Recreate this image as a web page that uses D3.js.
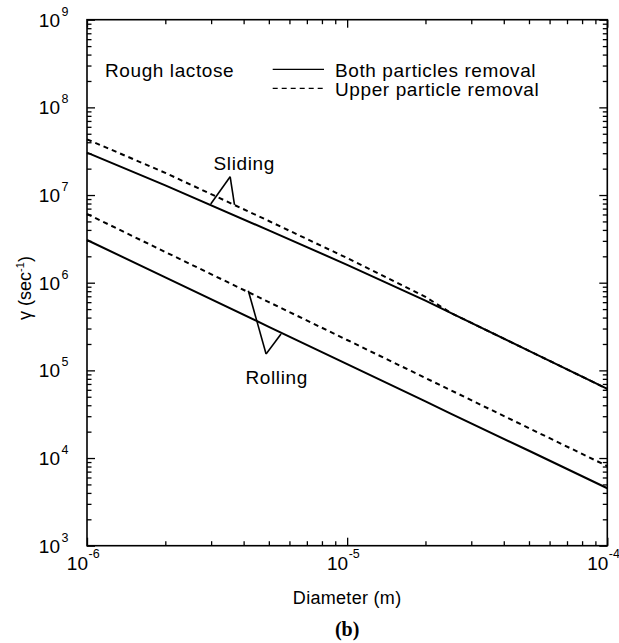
<!DOCTYPE html>
<html><head><meta charset="utf-8">
<script src="https://cdn.jsdelivr.net/npm/d3@7"></script>
<style>
body{margin:0;background:#fff;}
svg{display:block;font-family:"Liberation Sans",Arial,Helvetica,sans-serif;}
</style></head>
<body><svg id="c" width="619" height="643"></svg>
<script>
const diameters    = [1e-6, 2e-6, 5e-6, 1e-5, 2e-5, 2.5e-5, 5e-5, 1e-4];
const slidingBoth  = [3.04e7, 1.29e7, 3.95e6, 1.6e6, 6.25e5, 4.53e5, 1.67e5, 6.14e4];
const slidingUpper = [4.32e7, 1.79e7, 5.06e6, 1.91e6, 6.9e5, 4.53e5, 1.67e5, 6.14e4];
const rollingBoth  = [3.07e6, 1.15e6, 3.14e5, 1.18e5, 4.42e4, 3.21e4, 1.21e4, 4.52e3];
const rollingUpper = [6.08e6, 2.24e6, 6.01e5, 2.22e5, 8.19e4, 5.94e4, 2.19e4, 8.09e3];
const xMajor = [-6, -5, -4];
const yMajor = [3, 4, 5, 6, 7, 8, 9];
const legendLabels = ["Both particles removal", "Upper particle removal"];
const titleLabel = "Rough lactose";
const xTitle = "Diameter (m)";
const panelLabel = "(b)";
// annotation anchors in data coordinates [diameter, value]
const slidingNote = {text: "Sliding", label: [4.02e-6, 1.93e7], apex: [3.55e-6, 1.62e7], ends: [[2.99e-6, 7.9e6], [3.69e-6, 7.7e6]]};
const rollingNote = {text: "Rolling", label: [5.36e-6, 7.0e4], apex: [4.88e-6, 1.54e5], ends: [[4.17e-6, 8.1e5], [5.57e-6, 2.6e5]]};

const svg = d3.select("#c");
const L = 87, T = 19.7, R = 607.3, B = 545.7;
const x = d3.scaleLog().domain([1e-6, 1e-4]).range([L, R]);
const y = d3.scaleLog().domain([1e3, 1e9]).range([B, T]);

const minorX = [], minorY = [];
for (let e = -6; e < -4; e++) for (let m = 2; m <= 9; m++) minorX.push(m * Math.pow(10, e));
for (let e = 3; e < 9; e++) for (let m = 2; m <= 9; m++) minorY.push(m * Math.pow(10, e));
const majX = xMajor.map(e => Math.pow(10, e));
const majY = yMajor.map(e => Math.pow(10, e));

function ax(gen, vals, size, tx, ty) {
  const g = svg.append("g").attr("transform", `translate(${tx},${ty})`)
    .call(gen.tickValues(vals).tickSizeInner(size).tickSizeOuter(0).tickFormat(""));
  g.select(".domain").remove();
  g.selectAll("line").attr("stroke", "#000").attr("stroke-width", 1.3);
  return g;
}
// inward ticks on all four sides
ax(d3.axisBottom(x), majX, -8, 0, B);
ax(d3.axisBottom(x), minorX, -4.5, 0, B);
ax(d3.axisTop(x), majX, -8, 0, T);
ax(d3.axisTop(x), minorX, -4.5, 0, T);
ax(d3.axisLeft(y), majY, -8, L, 0);
ax(d3.axisLeft(y), minorY, -4.5, L, 0);
ax(d3.axisRight(y), majY, -8, R, 0);
ax(d3.axisRight(y), minorY, -4.5, R, 0);

svg.append("rect").attr("x", L).attr("y", T).attr("width", R - L).attr("height", B - T)
  .attr("fill", "none").attr("stroke", "#000").attr("stroke-width", 1.6);

// tick labels
yMajor.forEach(e => {
  svg.append("text").attr("x", 60).attr("y", y(Math.pow(10, e)) + 7)
    .attr("text-anchor", "end").attr("font-size", 19).text("10");
  svg.append("text").attr("x", 61.5).attr("y", y(Math.pow(10, e)) - 4)
    .attr("font-size", 12.5).text(String(e));
});
xMajor.forEach(e => {
  svg.append("text").attr("x", x(Math.pow(10, e)) + 1).attr("y", 570)
    .attr("text-anchor", "end").attr("font-size", 19).text("10");
  svg.append("text").attr("x", x(Math.pow(10, e)) + 1.5).attr("y", 558)
    .attr("font-size", 12.5).text(String(e));
});

// curves
const line = d3.line().x(d => x(d[0])).y(d => y(d[1]));
function series(vals, dash) {
  svg.append("path").datum(diameters.map((d, i) => [d, vals[i]]))
    .attr("d", line).attr("fill", "none").attr("stroke", "#000").attr("stroke-width", 2)
    .attr("stroke-dasharray", dash || null);
}
series(slidingBoth);
series(rollingBoth);
series(slidingUpper, "5,4");
series(rollingUpper, "5,4");

const big = {"font-size": 19, "letter-spacing": "0.6px"};
function applyBig(sel) { Object.entries(big).forEach(([k, v]) => sel.attr(k, v)); return sel; }

// annotations
[slidingNote, rollingNote].forEach(n => {
  n.ends.forEach(p => {
    svg.append("line").attr("x1", x(n.apex[0])).attr("y1", y(n.apex[1]))
      .attr("x2", x(p[0])).attr("y2", y(p[1])).attr("stroke", "#000").attr("stroke-width", 1.6);
  });
  applyBig(svg.append("text").attr("x", x(n.label[0])).attr("y", y(n.label[1]))
    .attr("text-anchor", "middle")).text(n.text);
});

// legend
applyBig(svg.append("text").attr("x", 105).attr("y", 77)).text(titleLabel);
[null, "5,4"].forEach((dash, i) => {
  const yy = 69.3 + i * 19;
  svg.append("line").attr("x1", 272.7).attr("x2", 324).attr("y1", yy).attr("y2", yy)
    .attr("stroke", "#000").attr("stroke-width", 1.3).attr("stroke-dasharray", dash);
  applyBig(svg.append("text").attr("x", 335).attr("y", yy + 7.4)).text(legendLabels[i]);
});

// axis titles
svg.append("text").attr("x", (L + R) / 2).attr("y", 604).attr("text-anchor", "middle")
  .attr("font-size", 18).attr("letter-spacing", "0.3px").text(xTitle);
const yt = svg.append("text").attr("transform", "translate(31,288) rotate(-90)")
  .attr("text-anchor", "middle").attr("font-size", 18);
yt.append("tspan").text("γ (sec");
yt.append("tspan").attr("font-size", 11).attr("dy", -7).text("-1");
yt.append("tspan").attr("dy", 7).text(")");
svg.append("text").attr("x", (L + R) / 2).attr("y", 636).attr("text-anchor", "middle")
  .attr("font-family", "'Liberation Serif','Times New Roman',serif").attr("font-weight", "bold")
  .attr("font-size", 20).text(panelLabel);
</script></body></html>
